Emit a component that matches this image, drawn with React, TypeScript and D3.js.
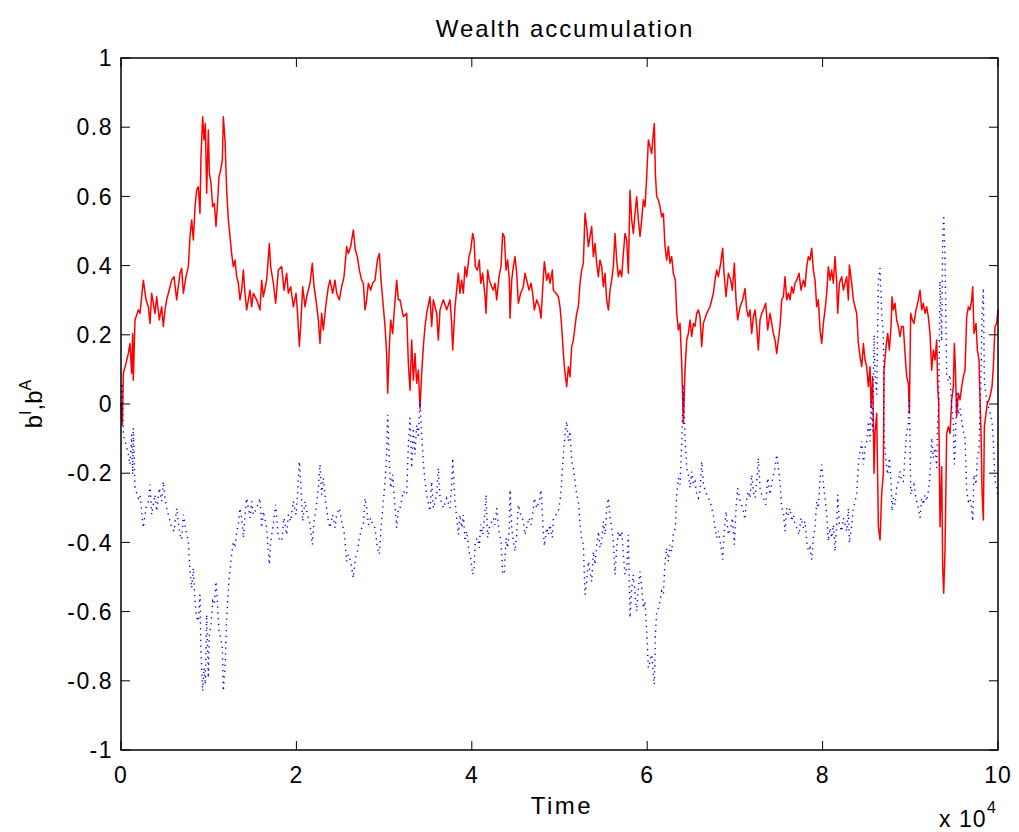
import React from "react";
import * as d3 from "d3";

// b^I (red, solid): [time step, value]
const bI: [number, number][] = [
  [0, 0], [76, -0.027], [152, -0.061], [266, 0.089], [570, 0.118], [836, 0.146], [1026, 0.175], [1216, 0.089], [1330, 0.204], [1406, 0.069],
  [1596, 0.243], [1977, 0.272], [2167, 0.262], [2357, 0.31], [2547, 0.358], [2851, 0.301], [3117, 0.281], [3307, 0.233], [3497, 0.32], [3877, 0.262],
  [4067, 0.31], [4371, 0.243], [4637, 0.281], [4827, 0.224], [5017, 0.272], [5207, 0.301], [5587, 0.339], [5778, 0.358], [6044, 0.368], [6348, 0.301],
  [6728, 0.378], [6918, 0.392], [7108, 0.32], [7412, 0.368], [7678, 0.397], [7868, 0.484], [8058, 0.532], [8248, 0.474], [8438, 0.57], [8628, 0.618],
  [8818, 0.628], [9008, 0.551], [9122, 0.715], [9312, 0.83], [9464, 0.763], [9617, 0.811], [9769, 0.609], [9959, 0.792], [10073, 0.667], [10263, 0.638],
  [10453, 0.57], [10643, 0.58], [10833, 0.513], [10985, 0.57], [11175, 0.657], [11365, 0.676], [11555, 0.705], [11669, 0.83], [11859, 0.763], [12049, 0.618],
  [12239, 0.532], [12429, 0.484], [12619, 0.435], [12809, 0.397], [13000, 0.416], [13190, 0.368], [13380, 0.349], [13570, 0.301], [13760, 0.329], [13950, 0.387],
  [14140, 0.32], [14330, 0.272], [14710, 0.329], [14900, 0.281], [15090, 0.32], [15470, 0.301], [15850, 0.272], [16040, 0.358], [16230, 0.31], [16610, 0.358],
  [16914, 0.464], [17066, 0.397], [17371, 0.349], [17637, 0.291], [17941, 0.387], [18321, 0.397], [18587, 0.329], [18891, 0.378], [19081, 0.32], [19347, 0.339],
  [19651, 0.281], [19955, 0.32], [20107, 0.272], [20335, 0.166], [20487, 0.224], [20715, 0.339], [20982, 0.281], [21172, 0.31], [21552, 0.349], [21818, 0.407],
  [22008, 0.339], [22236, 0.301], [22502, 0.243], [22692, 0.175], [22882, 0.262], [23072, 0.214], [23338, 0.281], [23642, 0.339], [23832, 0.358], [24136, 0.32],
  [24402, 0.358], [24592, 0.32], [24897, 0.301], [25163, 0.339], [25429, 0.368], [25733, 0.455], [25923, 0.435], [26189, 0.455], [26493, 0.503], [26721, 0.445],
  [26949, 0.426], [27177, 0.387], [27443, 0.358], [27633, 0.349], [27823, 0.272], [28013, 0.301], [28203, 0.349], [28469, 0.329], [28697, 0.349], [28964, 0.358],
  [29230, 0.416], [29458, 0.435], [29648, 0.358], [29914, 0.281], [30104, 0.224], [30294, 0.146], [30408, 0.031], [30598, 0.166], [30750, 0.243], [30978, 0.204],
  [31168, 0.272], [31434, 0.358], [31624, 0.301], [31814, 0.301], [32194, 0.252], [32574, 0.262], [32765, 0.118], [32955, 0.04], [33145, 0.185], [33335, 0.069],
  [33525, 0.146], [33715, 0.06], [33905, 0.098], [34095, -0.013], [34285, 0.089], [34475, 0.166], [34665, 0.224], [34855, 0.262], [35235, 0.31], [35425, 0.224],
  [35615, 0.301], [35995, 0.262], [36185, 0.185], [36376, 0.272], [36756, 0.301], [37136, 0.272], [37516, 0.301], [37706, 0.233], [37820, 0.156], [38086, 0.281],
  [38276, 0.329], [38466, 0.378], [38656, 0.32], [38846, 0.358], [39036, 0.32], [39226, 0.397], [39416, 0.368], [39683, 0.426], [39873, 0.445], [40101, 0.493],
  [40253, 0.474], [40405, 0.397], [40633, 0.387], [40861, 0.416], [41013, 0.349], [41241, 0.378], [41507, 0.31], [41621, 0.262], [41811, 0.387], [42001, 0.358],
  [42267, 0.339], [42457, 0.329], [42648, 0.349], [42838, 0.301], [43104, 0.368], [43332, 0.397], [43522, 0.493], [43712, 0.484], [43902, 0.387], [44092, 0.416],
  [44282, 0.358], [44358, 0.248], [44548, 0.358], [44738, 0.397], [44928, 0.426], [45118, 0.378], [45308, 0.291], [45574, 0.32], [45878, 0.339], [46068, 0.378],
  [46258, 0.358], [46524, 0.329], [46752, 0.349], [46942, 0.32], [47133, 0.272], [47399, 0.301], [47703, 0.281], [47893, 0.248], [48159, 0.368], [48273, 0.411],
  [48539, 0.358], [48729, 0.378], [48919, 0.349], [49185, 0.387], [49299, 0.329], [49603, 0.32], [49869, 0.31], [50059, 0.281], [50249, 0.224], [50439, 0.146],
  [50629, 0.089], [50819, 0.05], [51010, 0.108], [51200, 0.079], [51390, 0.166], [51580, 0.185], [51770, 0.224], [51960, 0.262], [52150, 0.281], [52340, 0.349],
  [52530, 0.387], [52720, 0.407], [52910, 0.551], [53100, 0.513], [53290, 0.455], [53480, 0.484], [53670, 0.513], [53860, 0.426], [54050, 0.464], [54240, 0.407],
  [54430, 0.368], [54620, 0.416], [54810, 0.397], [55000, 0.339], [55191, 0.378], [55381, 0.301], [55571, 0.272], [55761, 0.329], [55951, 0.358], [56141, 0.397],
  [56331, 0.493], [56521, 0.416], [56711, 0.368], [56901, 0.387], [57091, 0.368], [57281, 0.435], [57471, 0.493], [57661, 0.474], [57851, 0.378], [58041, 0.618],
  [58231, 0.532], [58421, 0.493], [58611, 0.551], [58801, 0.599], [58991, 0.532], [59182, 0.484], [59372, 0.532], [59562, 0.59], [59752, 0.57], [59942, 0.657],
  [60132, 0.763], [60322, 0.744], [60512, 0.724], [60702, 0.782], [60816, 0.811], [60930, 0.667], [61082, 0.599], [61272, 0.59], [61463, 0.57], [61653, 0.541],
  [61843, 0.551], [62033, 0.455], [62223, 0.416], [62413, 0.455], [62603, 0.407], [62793, 0.426], [62983, 0.378], [63211, 0.358], [63363, 0.262], [63553, 0.214],
  [63743, 0.233], [63933, 0.118], [64123, -0.056], [64313, 0.098], [64504, 0.185], [64694, 0.204], [64884, 0.243], [65074, 0.195], [65264, 0.233], [65454, 0.224],
  [65644, 0.262], [65834, 0.272], [66023, 0.252], [66213, 0.166], [66403, 0.233], [66784, 0.262], [67164, 0.281], [67544, 0.32], [67734, 0.358], [67924, 0.387],
  [68114, 0.368], [68380, 0.407], [68608, 0.45], [68760, 0.378], [68988, 0.31], [69254, 0.378], [69520, 0.358], [69710, 0.329], [69939, 0.407], [70129, 0.301],
  [70319, 0.243], [70585, 0.281], [70889, 0.301], [71155, 0.334], [71345, 0.272], [71535, 0.252], [71725, 0.272], [71915, 0.204], [72105, 0.252], [72295, 0.272],
  [72485, 0.224], [72675, 0.156], [72865, 0.243], [73055, 0.262], [73246, 0.272], [73512, 0.291], [73740, 0.214], [74006, 0.262], [74196, 0.233], [74386, 0.204],
  [74576, 0.185], [74766, 0.146], [74956, 0.185], [75146, 0.224], [75336, 0.301], [75526, 0.31], [75716, 0.368], [75906, 0.301], [76096, 0.32], [76286, 0.301],
  [76476, 0.339], [76667, 0.32], [76857, 0.349], [77047, 0.358], [77313, 0.378], [77541, 0.329], [77807, 0.358], [77997, 0.339], [78187, 0.397], [78377, 0.426],
  [78567, 0.416], [78757, 0.45], [78947, 0.387], [79137, 0.358], [79327, 0.281], [79517, 0.301], [79707, 0.214], [79897, 0.175], [80087, 0.233], [80277, 0.272],
  [80468, 0.32], [80658, 0.397], [80848, 0.358], [81038, 0.387], [81228, 0.349], [81418, 0.426], [81608, 0.349], [81722, 0.262], [81912, 0.349], [82178, 0.368],
  [82368, 0.329], [82558, 0.349], [82748, 0.368], [82938, 0.301], [83052, 0.402], [83318, 0.349], [83508, 0.301], [83698, 0.281], [83888, 0.262], [84079, 0.175],
  [84269, 0.137], [84459, 0.108], [84649, 0.175], [84839, 0.127], [85029, 0.108], [85219, 0.05], [85409, 0.108], [85523, -0.008], [85713, 0.079], [85865, -0.2],
  [85979, -0.085], [86169, -0.027], [86359, -0.355], [86549, -0.393], [86739, -0.258], [86929, -0.2], [87005, 0.098], [87233, 0.166], [87423, 0.204], [87613, 0.156],
  [87803, 0.224], [87917, 0.31], [88067, 0.272], [88257, 0.291], [88447, 0.243], [88637, 0.224], [88827, 0.195], [89017, 0.224], [89207, 0.224], [89397, 0.146],
  [89588, 0.079], [89778, 0.06], [89892, -0.027], [90044, 0.262], [90234, 0.243], [90424, 0.233], [90652, 0.272], [90918, 0.301], [91108, 0.329], [91298, 0.272],
  [91488, 0.291], [91678, 0.262], [91868, 0.281], [92058, 0.252], [92248, 0.204], [92438, 0.098], [92628, 0.156], [92818, 0.127], [93008, 0.185], [93122, 0.05],
  [93236, 0.002], [93389, -0.355], [93579, -0.181], [93693, -0.47], [93807, -0.547], [93959, -0.422], [94149, -0.085], [94339, -0.066], [94529, -0.085], [94719, 0.012],
  [94909, 0.05], [95023, 0.175], [95137, 0.108], [95289, -0.037], [95479, 0.031], [95669, 0.012], [95860, 0.05], [96050, 0.079], [96240, 0.098], [96430, 0.252],
  [96620, 0.281], [96810, 0.272], [97000, 0.301], [97114, 0.339], [97266, 0.204], [97494, 0.233], [97646, 0.156], [97836, 0.127], [97950, 0.012], [98064, -0.085],
  [98178, -0.249], [98330, -0.335], [98444, -0.066], [98634, -0.027], [98786, 0.002], [98976, 0.012], [99166, 0.031], [99318, 0.05], [99470, 0.108], [99660, 0.224],
  [99850, 0.233], [100000, 0.272],
];

// b^A (blue, dotted): mirror of b^I
const bA: [number, number][] = [
  [0, 0], [76, 0.027], [152, 0.061], [266, -0.089], [570, -0.118], [836, -0.146], [1026, -0.175], [1216, -0.089], [1330, -0.204], [1406, -0.069],
  [1596, -0.243], [1977, -0.272], [2167, -0.262], [2357, -0.31], [2547, -0.358], [2851, -0.301], [3117, -0.281], [3307, -0.233], [3497, -0.32], [3877, -0.262],
  [4067, -0.31], [4371, -0.243], [4637, -0.281], [4827, -0.224], [5017, -0.272], [5207, -0.301], [5587, -0.339], [5778, -0.358], [6044, -0.368], [6348, -0.301],
  [6728, -0.378], [6918, -0.392], [7108, -0.32], [7412, -0.368], [7678, -0.397], [7868, -0.484], [8058, -0.532], [8248, -0.474], [8438, -0.57], [8628, -0.618],
  [8818, -0.628], [9008, -0.551], [9122, -0.715], [9312, -0.83], [9464, -0.763], [9617, -0.811], [9769, -0.609], [9959, -0.792], [10073, -0.667], [10263, -0.638],
  [10453, -0.57], [10643, -0.58], [10833, -0.513], [10985, -0.57], [11175, -0.657], [11365, -0.676], [11555, -0.705], [11669, -0.83], [11859, -0.763], [12049, -0.618],
  [12239, -0.532], [12429, -0.484], [12619, -0.435], [12809, -0.397], [13000, -0.416], [13190, -0.368], [13380, -0.349], [13570, -0.301], [13760, -0.329], [13950, -0.387],
  [14140, -0.32], [14330, -0.272], [14710, -0.329], [14900, -0.281], [15090, -0.32], [15470, -0.301], [15850, -0.272], [16040, -0.358], [16230, -0.31], [16610, -0.358],
  [16914, -0.464], [17066, -0.397], [17371, -0.349], [17637, -0.291], [17941, -0.387], [18321, -0.397], [18587, -0.329], [18891, -0.378], [19081, -0.32], [19347, -0.339],
  [19651, -0.281], [19955, -0.32], [20107, -0.272], [20335, -0.166], [20487, -0.224], [20715, -0.339], [20982, -0.281], [21172, -0.31], [21552, -0.349], [21818, -0.407],
  [22008, -0.339], [22236, -0.301], [22502, -0.243], [22692, -0.175], [22882, -0.262], [23072, -0.214], [23338, -0.281], [23642, -0.339], [23832, -0.358], [24136, -0.32],
  [24402, -0.358], [24592, -0.32], [24897, -0.301], [25163, -0.339], [25429, -0.368], [25733, -0.455], [25923, -0.435], [26189, -0.455], [26493, -0.503], [26721, -0.445],
  [26949, -0.426], [27177, -0.387], [27443, -0.358], [27633, -0.349], [27823, -0.272], [28013, -0.301], [28203, -0.349], [28469, -0.329], [28697, -0.349], [28964, -0.358],
  [29230, -0.416], [29458, -0.435], [29648, -0.358], [29914, -0.281], [30104, -0.224], [30294, -0.146], [30408, -0.031], [30598, -0.166], [30750, -0.243], [30978, -0.204],
  [31168, -0.272], [31434, -0.358], [31624, -0.301], [31814, -0.301], [32194, -0.252], [32574, -0.262], [32765, -0.118], [32955, -0.04], [33145, -0.185], [33335, -0.069],
  [33525, -0.146], [33715, -0.06], [33905, -0.098], [34095, 0.013], [34285, -0.089], [34475, -0.166], [34665, -0.224], [34855, -0.262], [35235, -0.31], [35425, -0.224],
  [35615, -0.301], [35995, -0.262], [36185, -0.185], [36376, -0.272], [36756, -0.301], [37136, -0.272], [37516, -0.301], [37706, -0.233], [37820, -0.156], [38086, -0.281],
  [38276, -0.329], [38466, -0.378], [38656, -0.32], [38846, -0.358], [39036, -0.32], [39226, -0.397], [39416, -0.368], [39683, -0.426], [39873, -0.445], [40101, -0.493],
  [40253, -0.474], [40405, -0.397], [40633, -0.387], [40861, -0.416], [41013, -0.349], [41241, -0.378], [41507, -0.31], [41621, -0.262], [41811, -0.387], [42001, -0.358],
  [42267, -0.339], [42457, -0.329], [42648, -0.349], [42838, -0.301], [43104, -0.368], [43332, -0.397], [43522, -0.493], [43712, -0.484], [43902, -0.387], [44092, -0.416],
  [44282, -0.358], [44358, -0.248], [44548, -0.358], [44738, -0.397], [44928, -0.426], [45118, -0.378], [45308, -0.291], [45574, -0.32], [45878, -0.339], [46068, -0.378],
  [46258, -0.358], [46524, -0.329], [46752, -0.349], [46942, -0.32], [47133, -0.272], [47399, -0.301], [47703, -0.281], [47893, -0.248], [48159, -0.368], [48273, -0.411],
  [48539, -0.358], [48729, -0.378], [48919, -0.349], [49185, -0.387], [49299, -0.329], [49603, -0.32], [49869, -0.31], [50059, -0.281], [50249, -0.224], [50439, -0.146],
  [50629, -0.089], [50819, -0.05], [51010, -0.108], [51200, -0.079], [51390, -0.166], [51580, -0.185], [51770, -0.224], [51960, -0.262], [52150, -0.281], [52340, -0.349],
  [52530, -0.387], [52720, -0.407], [52910, -0.551], [53100, -0.513], [53290, -0.455], [53480, -0.484], [53670, -0.513], [53860, -0.426], [54050, -0.464], [54240, -0.407],
  [54430, -0.368], [54620, -0.416], [54810, -0.397], [55000, -0.339], [55191, -0.378], [55381, -0.301], [55571, -0.272], [55761, -0.329], [55951, -0.358], [56141, -0.397],
  [56331, -0.493], [56521, -0.416], [56711, -0.368], [56901, -0.387], [57091, -0.368], [57281, -0.435], [57471, -0.493], [57661, -0.474], [57851, -0.378], [58041, -0.618],
  [58231, -0.532], [58421, -0.493], [58611, -0.551], [58801, -0.599], [58991, -0.532], [59182, -0.484], [59372, -0.532], [59562, -0.59], [59752, -0.57], [59942, -0.657],
  [60132, -0.763], [60322, -0.744], [60512, -0.724], [60702, -0.782], [60816, -0.811], [60930, -0.667], [61082, -0.599], [61272, -0.59], [61463, -0.57], [61653, -0.541],
  [61843, -0.551], [62033, -0.455], [62223, -0.416], [62413, -0.455], [62603, -0.407], [62793, -0.426], [62983, -0.378], [63211, -0.358], [63363, -0.262], [63553, -0.214],
  [63743, -0.233], [63933, -0.118], [64123, 0.056], [64313, -0.098], [64504, -0.185], [64694, -0.204], [64884, -0.243], [65074, -0.195], [65264, -0.233], [65454, -0.224],
  [65644, -0.262], [65834, -0.272], [66023, -0.252], [66213, -0.166], [66403, -0.233], [66784, -0.262], [67164, -0.281], [67544, -0.32], [67734, -0.358], [67924, -0.387],
  [68114, -0.368], [68380, -0.407], [68608, -0.45], [68760, -0.378], [68988, -0.31], [69254, -0.378], [69520, -0.358], [69710, -0.329], [69939, -0.407], [70129, -0.301],
  [70319, -0.243], [70585, -0.281], [70889, -0.301], [71155, -0.334], [71345, -0.272], [71535, -0.252], [71725, -0.272], [71915, -0.204], [72105, -0.252], [72295, -0.272],
  [72485, -0.224], [72675, -0.156], [72865, -0.243], [73055, -0.262], [73246, -0.272], [73512, -0.291], [73740, -0.214], [74006, -0.262], [74196, -0.233], [74386, -0.204],
  [74576, -0.185], [74766, -0.146], [74956, -0.185], [75146, -0.224], [75336, -0.301], [75526, -0.31], [75716, -0.368], [75906, -0.301], [76096, -0.32], [76286, -0.301],
  [76476, -0.339], [76667, -0.32], [76857, -0.349], [77047, -0.358], [77313, -0.378], [77541, -0.329], [77807, -0.358], [77997, -0.339], [78187, -0.397], [78377, -0.426],
  [78567, -0.416], [78757, -0.45], [78947, -0.387], [79137, -0.358], [79327, -0.281], [79517, -0.301], [79707, -0.214], [79897, -0.175], [80087, -0.233], [80277, -0.272],
  [80468, -0.32], [80658, -0.397], [80848, -0.358], [81038, -0.387], [81228, -0.349], [81418, -0.426], [81608, -0.349], [81722, -0.262], [81912, -0.349], [82178, -0.368],
  [82368, -0.329], [82558, -0.349], [82748, -0.368], [82938, -0.301], [83052, -0.402], [83318, -0.349], [83508, -0.301], [83698, -0.281], [83888, -0.262], [84079, -0.175],
  [84269, -0.137], [84459, -0.108], [84649, -0.175], [84839, -0.127], [85029, -0.108], [85219, -0.05], [85409, -0.108], [85523, 0.008], [85713, -0.079], [85865, 0.2],
  [85979, 0.085], [86169, 0.027], [86359, 0.355], [86549, 0.393], [86739, 0.258], [86929, 0.2], [87005, -0.098], [87233, -0.166], [87423, -0.204], [87613, -0.156],
  [87803, -0.224], [87917, -0.31], [88067, -0.272], [88257, -0.291], [88447, -0.243], [88637, -0.224], [88827, -0.195], [89017, -0.224], [89207, -0.224], [89397, -0.146],
  [89588, -0.079], [89778, -0.06], [89892, 0.027], [90044, -0.262], [90234, -0.243], [90424, -0.233], [90652, -0.272], [90918, -0.301], [91108, -0.329], [91298, -0.272],
  [91488, -0.291], [91678, -0.262], [91868, -0.281], [92058, -0.252], [92248, -0.204], [92438, -0.098], [92628, -0.156], [92818, -0.127], [93008, -0.185], [93122, -0.05],
  [93236, -0.002], [93389, 0.355], [93579, 0.181], [93693, 0.47], [93807, 0.547], [93959, 0.422], [94149, 0.085], [94339, 0.066], [94529, 0.085], [94719, -0.012],
  [94909, -0.05], [95023, -0.175], [95137, -0.108], [95289, 0.037], [95479, -0.031], [95669, -0.012], [95860, -0.05], [96050, -0.079], [96240, -0.098], [96430, -0.252],
  [96620, -0.281], [96810, -0.272], [97000, -0.301], [97114, -0.339], [97266, -0.204], [97494, -0.233], [97646, -0.156], [97836, -0.127], [97950, -0.012], [98064, 0.085],
  [98178, 0.249], [98330, 0.335], [98444, 0.066], [98634, 0.027], [98786, -0.002], [98976, -0.012], [99166, -0.031], [99318, -0.05], [99470, -0.108], [99660, -0.224],
  [99850, -0.233], [100000, -0.272],
];

const xTickValues = [0, 20000, 40000, 60000, 80000, 100000];
const yTickValues = [-1, -0.8, -0.6, -0.4, -0.2, 0, 0.2, 0.4, 0.6, 0.8, 1];

const FONT = "'Liberation Sans', Arial, Helvetica, sans-serif";

export default function App() {
  const width = 1019;
  const height = 832;
  const margin = { top: 58, right: 21, bottom: 82, left: 121 };
  const tickLen = 9;

  const x = d3.scaleLinear().domain([0, 100000]).range([margin.left, width - margin.right]);
  const y = d3.scaleLinear().domain([-1, 1]).range([height - margin.bottom, margin.top]);

  const line = d3.line<[number, number]>()
    .x(d => x(d[0]))
    .y(d => y(d[1]));

  const [x0, x1] = x.range();
  const [y0, y1] = y.range(); // y0 bottom, y1 top

  return (
    <svg
      width={width}
      height={height}
      style={{ position: "absolute", left: 0, top: 0, background: "#fff" }}
      fontFamily={FONT}
    >
      <rect x={0} y={0} width={width} height={height} fill="#fff" />

      {/* series */}
      <path d={line(bI) || ""} fill="none" stroke="#ff0000" strokeWidth={1.5} strokeLinejoin="round" />
      <path d={line(bA) || ""} fill="none" stroke="#0000ff" strokeWidth={1.4} strokeDasharray="1.3 4.5" />

      {/* box */}
      <rect x={x0} y={y1} width={x1 - x0} height={y0 - y1} fill="none" stroke="#000" strokeWidth={1.5} />

      {/* x ticks */}
      {xTickValues.map(v => (
        <g key={"x" + v}>
          <line x1={x(v)} x2={x(v)} y1={y0} y2={y0 - tickLen} stroke="#000" strokeWidth={1} />
          <line x1={x(v)} x2={x(v)} y1={y1} y2={y1 + tickLen} stroke="#000" strokeWidth={1} />
          <text x={x(v)} y={y0 + 33} textAnchor="middle" fontSize={23} letterSpacing={1}>
            {String(v / 10000)}
          </text>
        </g>
      ))}

      {/* y ticks */}
      {yTickValues.map(v => (
        <g key={"y" + v}>
          <line x1={x0} x2={x0 + tickLen} y1={y(v)} y2={y(v)} stroke="#000" strokeWidth={1} />
          <line x1={x1} x2={x1 - tickLen} y1={y(v)} y2={y(v)} stroke="#000" strokeWidth={1} />
          <text x={113} y={y(v)} dy="0.36em" textAnchor="end" fontSize={23} letterSpacing={1.5}>
            {String(v)}
          </text>
        </g>
      ))}

      {/* title */}
      <text x={565} y={37} textAnchor="middle" fontSize={24} letterSpacing={1.9}>
        Wealth accumulation
      </text>

      {/* x label */}
      <text x={562} y={814} textAnchor="middle" fontSize={24} letterSpacing={2.5}>
        Time
      </text>

      {/* exponent */}
      <text x={939} y={827} fontSize={23} letterSpacing={1}>
        x 10
      </text>
      <text x={987} y={813} fontSize={16}>
        4
      </text>

      {/* y label */}
      <text transform={`translate(42,${(y0 + y1) / 2}) rotate(-90)`} textAnchor="middle" fontSize={24}>
        b
        <tspan fontSize={16} dy={-11}>I</tspan>
        <tspan dy={11}>,b</tspan>
        <tspan fontSize={16} dy={-11}>A</tspan>
      </text>
    </svg>
  );
}
